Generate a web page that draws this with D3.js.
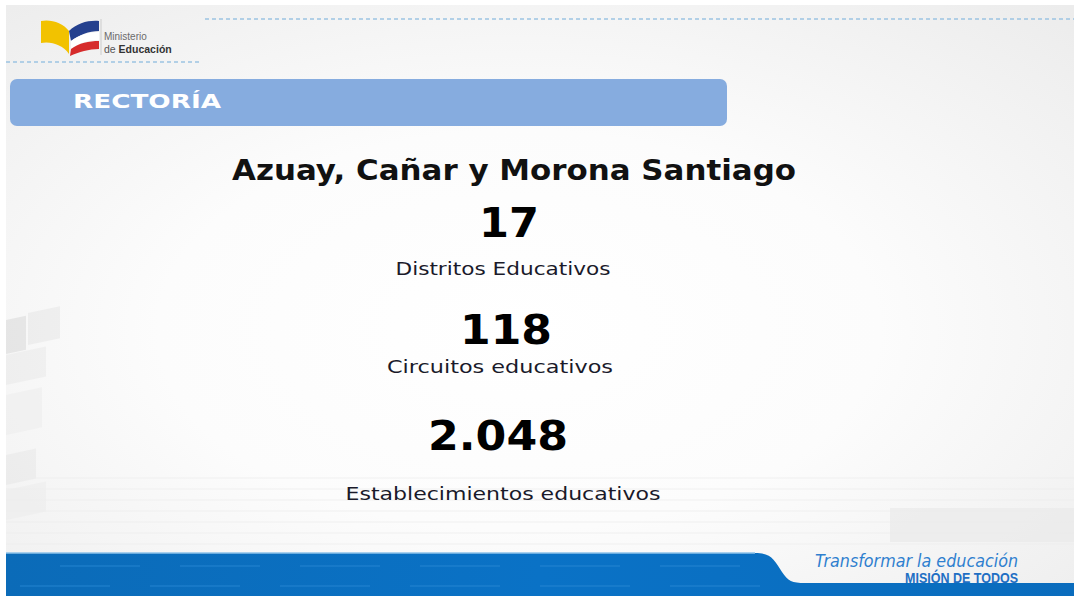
<!DOCTYPE html>
<html lang="es">
<head>
    <meta charset="utf-8">
    <title>Rectoría</title>
    <script type="text/javascript" src="https://d3js.org/d3.v7.min.js"></script>
    <style>
        html, body { margin: 0; padding: 0; background: #ffffff; overflow: hidden; }
        svg { display: block; }
    </style>
</head>
<body>
    <div id="slide"></div>
    <script type="text/javascript">
        // data
        const title = "Azuay, Cañar y Morona Santiago";
        const section = "RECTORÍA";
        const categories = ["Distritos Educativos", "Circuitos educativos", "Establecimientos educativos"];
        const values = [17, 118, 2048];

        const width = 1074;
        const height = 596;

        const locale = d3.formatLocale({decimal: ",", thousands: ".", grouping: [3], currency: ["$", ""]});
        const fmt = locale.format(",d");

        const svg = d3.select("#slide")
            .append("svg")
            .attr("width", width)
            .attr("height", height);

        const defs = svg.append("defs");

        // slide background gradient
        const bg = defs.append("radialGradient")
            .attr("id", "bg")
            .attr("cx", "0.48").attr("cy", "0.55").attr("r", "0.75");
        bg.append("stop").attr("offset", "0%").attr("stop-color", "#ffffff");
        bg.append("stop").attr("offset", "45%").attr("stop-color", "#fcfcfc");
        bg.append("stop").attr("offset", "100%").attr("stop-color", "#ececec");

        const band = defs.append("linearGradient")
            .attr("id", "band").attr("x1", 0).attr("x2", 1).attr("y1", 0).attr("y2", 0);
        band.append("stop").attr("offset", "0%").attr("stop-color", "#0b6bb8");
        band.append("stop").attr("offset", "50%").attr("stop-color", "#0a72c6");
        band.append("stop").attr("offset", "100%").attr("stop-color", "#0a6cbd");

        svg.append("rect")
            .attr("x", 6).attr("y", 5)
            .attr("width", width - 6).attr("height", height - 5)
            .attr("fill", "url(#bg)");

        // faint decorative squares on the left
        const squares = svg.append("g").attr("opacity", 0.35);
        [[6, 320, 20, 34, "#c8c8c8"], [28, 313, 32, 32, "#dddddd"], [6, 355, 40, 30, "#e2e2e2"],
         [6, 395, 36, 40, "#e8e8e8"], [6, 455, 30, 30, "#e0e0e0"], [6, 490, 40, 30, "#e8e8e8"]]
            .forEach(s => {
                squares.append("rect")
                    .attr("x", s[0]).attr("y", s[1]).attr("width", s[2]).attr("height", s[3])
                    .attr("fill", s[4])
                    .attr("transform", `skewY(-12)`)
                    .attr("transform-origin", `${s[0]} ${s[1]}`);
            });

        // faint floor grid near the bottom
        const floor = svg.append("g").attr("stroke", "#eeeeee").attr("stroke-width", 1.5).attr("fill", "none");
        d3.range(7).forEach(i => {
            const y = 478 + i * 11;
            floor.append("line").attr("x1", 6).attr("x2", width).attr("y1", y).attr("y2", y).attr("opacity", 0.5);
        });
        svg.append("rect").attr("x", 890).attr("y", 508).attr("width", 184).attr("height", 34)
            .attr("fill", "#e9e9e9").attr("opacity", 0.7);

        // header dashed lines
        svg.append("line")
            .attr("x1", 205).attr("x2", width).attr("y1", 19).attr("y2", 19)
            .attr("stroke", "#9cc4e2").attr("stroke-width", 1.5).attr("stroke-dasharray", "4,3");
        svg.append("line")
            .attr("x1", 6).attr("x2", 200).attr("y1", 62).attr("y2", 62)
            .attr("stroke", "#9cc4e2").attr("stroke-width", 1.5).attr("stroke-dasharray", "4,3");

        // logo
        const logo = svg.append("g").attr("transform", "translate(41,19)");
        logo.append("path").attr("d", "M0,2 C10,0 22,4 28,12 L28,35 C22,26 10,22 0,24 Z").attr("fill", "#f2c200");
        logo.append("path").attr("d", "M28,12 C36,4 48,1 58,2 L58,12 C48,12 38,16 30,22 Z").attr("fill", "#24408e");
        logo.append("path").attr("d", "M30,22 C38,16 48,13 58,13 L58,21 C48,21 38,24 30,30 Z").attr("fill", "#ffffff");
        logo.append("path").attr("d", "M30,30 C38,24 48,22 58,22 L58,30 C48,30 38,33 29,37 Z").attr("fill", "#d62b2b");
        logo.append("line").attr("x1", 60).attr("x2", 60).attr("y1", 0).attr("y2", 36).attr("stroke", "#cccccc");
        logo.append("text").attr("x", 63).attr("y", 21)
            .attr("font-family", "Liberation Sans, Arial, sans-serif").attr("font-size", 10)
            .attr("fill", "#6b6b6b").text("Ministerio");
        logo.append("text").attr("x", 63).attr("y", 34)
            .attr("font-family", "Liberation Sans, Arial, sans-serif").attr("font-size", 10.5)
            .attr("fill", "#555555").text("de ")
            .append("tspan").attr("font-weight", "bold").attr("fill", "#333333").text("Educación");

        // section bar
        svg.append("rect")
            .attr("x", 10).attr("y", 79).attr("width", 717).attr("height", 47)
            .attr("rx", 7).attr("fill", "#86acdf");
        svg.append("text")
            .attr("x", 73).attr("y", 108)
            .attr("font-family", "DejaVu Sans, Verdana, sans-serif")
            .attr("font-weight", "bold").attr("font-size", 20)
            .attr("fill", "#ffffff")
            .attr("textLength", 148).attr("lengthAdjust", "spacingAndGlyphs")
            .text(section);

        // title
        svg.append("text")
            .attr("x", 514).attr("y", 180)
            .attr("text-anchor", "middle")
            .attr("font-family", "DejaVu Sans, Verdana, sans-serif")
            .attr("font-weight", "bold").attr("font-size", 28)
            .attr("fill", "#111111")
            .attr("textLength", 564).attr("lengthAdjust", "spacingAndGlyphs")
            .text(title);

        // stat blocks: vertical positions from a band scale
        const y = d3.scaleBand()
            .domain(categories)
            .range([200, 520])
            .paddingInner(0);

        const labelGap = [38, 29, 50];
        const labelWidth = [215, 226, 315];
        const labelCenter = [503, 500, 503];
        const numWidth = [60, 92, 140];
        const numCenter = [509, 506, 498];

        const stats = svg.append("g").attr("class", "stats")
            .selectAll("g")
            .data(categories)
            .join("g");

        stats.append("text")
            .attr("x", (d, i) => numCenter[i])
            .attr("y", d => y(d) + 37)
            .attr("text-anchor", "middle")
            .attr("font-family", "DejaVu Sans, Verdana, sans-serif")
            .attr("font-weight", "bold").attr("font-size", 40)
            .attr("fill", "#000000")
            .attr("textLength", (d, i) => numWidth[i]).attr("lengthAdjust", "spacingAndGlyphs")
            .text((d, i) => fmt(values[i]));

        stats.append("text")
            .attr("x", (d, i) => labelCenter[i])
            .attr("y", (d, i) => y(d) + 37 + labelGap[i])
            .attr("text-anchor", "middle")
            .attr("font-family", "DejaVu Sans, Verdana, sans-serif")
            .attr("font-size", 17)
            .attr("fill", "#1a1a2a")
            .attr("textLength", (d, i) => labelWidth[i]).attr("lengthAdjust", "spacingAndGlyphs")
            .text(d => d);

        // bottom blue band
        svg.append("path")
            .attr("d", `M6,553 L755,553 C772,553 774,560 782,572 C788,581 792,583 805,583 L${width},583 L${width},${height} L6,${height} Z`)
            .attr("fill", "url(#band)");
        svg.append("line")
            .attr("x1", 6).attr("x2", 755).attr("y1", 553).attr("y2", 553)
            .attr("stroke", "#8fc3ea").attr("stroke-width", 1.5);
        const stripes = svg.append("g").attr("stroke", "#2b8ad6").attr("stroke-width", 2).attr("opacity", 0.4);
        d3.range(6).forEach(i => {
            stripes.append("line").attr("x1", 60 + i * 120).attr("x2", 140 + i * 120)
                .attr("y1", 566).attr("y2", 566);
            stripes.append("line").attr("x1", 20 + i * 130).attr("x2", 110 + i * 130)
                .attr("y1", 586).attr("y2", 586);
        });

        // tagline
        svg.append("text")
            .attr("x", 815).attr("y", 567)
            .attr("font-family", "DejaVu Sans, sans-serif")
            .attr("font-style", "italic").attr("font-size", 18)
            .attr("fill", "#2f7fcf")
            .attr("textLength", 203).attr("lengthAdjust", "spacingAndGlyphs")
            .text("Transformar la educación");
        svg.append("text")
            .attr("x", 905).attr("y", 583)
            .attr("font-family", "Liberation Sans Narrow, Liberation Sans, sans-serif")
            .attr("font-weight", "bold").attr("font-size", 15)
            .attr("fill", "#1f6fc4")
            .attr("textLength", 113).attr("lengthAdjust", "spacingAndGlyphs")
            .text("MISIÓN DE TODOS");
    </script>
</body>
</html>
